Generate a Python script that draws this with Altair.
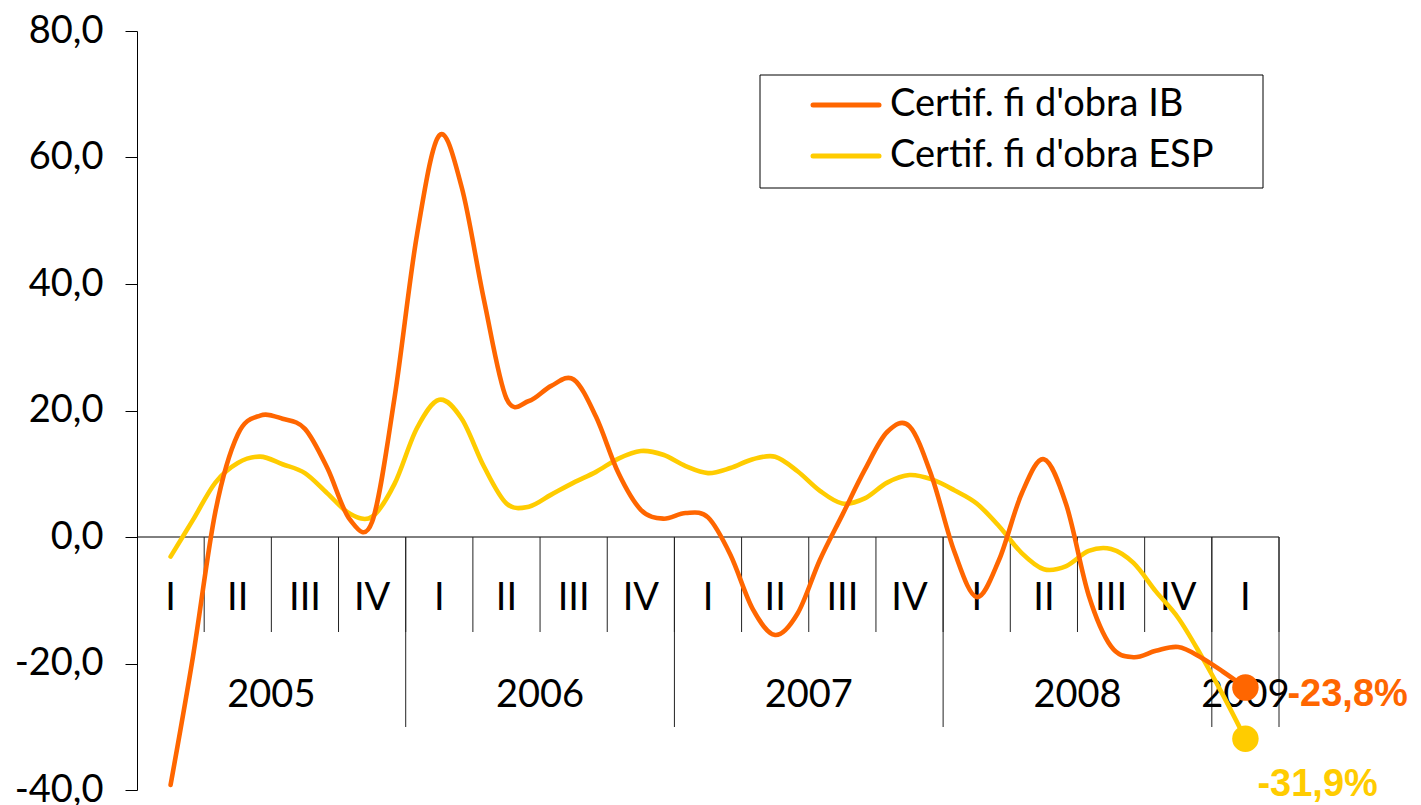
import altair as alt
import pandas as pd

# ---- data (monthly, Feb 2005 .. Feb 2009; month index 0 = Jan 2005) ----
month_index = list(range(1, 50))
ib_values = [-39.2, -18.9, 4.0, 16.2, 19.2, 18.7, 17.1, 10.9, 2.8, 2.4,
             22.0, 47.7, 63.5, 55.3, 37.4, 21.9, 21.5, 23.9, 24.9, 19.0,
             10.1, 4.3, 2.9, 3.8, 3.1, -2.8, -11.4, -15.5, -12.1, -3.6,
             3.5, 10.6, 16.6, 17.5, 9.5, -2.3, -9.5, -3.6, 6.8, 12.3,
             5.1, -9.2, -17.3, -19.0, -18.0, -17.4, -19.0, -21.3, -23.8]
esp_values = [-3.1, 2.7, 8.6, 11.7, 12.7, 11.5, 10.1, 6.9, 3.7, 3.2,
              8.4, 17.2, 21.7, 18.7, 11.1, 5.3, 4.8, 6.7, 8.6, 10.3,
              12.4, 13.6, 13.0, 11.2, 10.1, 10.9, 12.3, 12.7, 10.4, 7.3,
              5.3, 6.1, 8.6, 9.8, 9.1, 7.4, 5.3, 1.7, -2.5, -5.1,
              -4.6, -2.2, -1.9, -4.1, -8.6, -12.8, -18.6, -25.0, -31.9]
series_names = ["Certif. fi d'obra IB", "Certif. fi d'obra ESP"]
series_colors = ["#FF6600", "#FFCC00"]
quarter_labels = ["I", "II", "III", "IV", "I", "II", "III", "IV", "I", "II",
                  "III", "IV", "I", "II", "III", "IV", "I"]
year_labels = ["2005", "2006", "2007", "2008", "2009"]
end_values = [-23.8, -31.9]
end_labels = ["-23,8%", "-31,9%"]
y_ticks = [-40, -20, 0, 20, 40, 60, 80]

FONT = "Lato"
W, H = 1142, 759
n_q = len(quarter_labels)

xscale = alt.Scale(domain=[-0.5, 3 * n_q - 0.5], nice=False, zero=False)
yscale = alt.Scale(domain=[-40, 80], nice=False, zero=False)
cscale = alt.Scale(domain=series_names, range=series_colors)

yaxis = alt.Axis(
    values=y_ticks, title=None, grid=False,
    labelExpr="(datum.value < 0 ? '-' : '') + replace(format(abs(datum.value), '.1f'), '.', ',')",
    labelFont=FONT, labelFontSize=38, labelColor="black", labelPadding=22,
    labelFlush=False, labelOverlap=False,
    tickSize=12, tickColor="black", tickWidth=1, domainColor="black", domainWidth=1,
)

ib_df = pd.DataFrame({"month": month_index, "value": ib_values, "series": series_names[0]})
esp_df = pd.DataFrame({"month": month_index, "value": esp_values, "series": series_names[1]})


def line_layer(df):
    return alt.Chart(df).mark_line(
        interpolate="cardinal", strokeWidth=4.6, strokeJoin="round", strokeCap="round"
    ).encode(
        x=alt.X("month:Q", scale=xscale, axis=None),
        y=alt.Y("value:Q", scale=yscale, axis=yaxis),
        color=alt.Color("series:N", scale=cscale, legend=None),
    )


# category axis structure
q_df = pd.DataFrame({
    "q": list(range(n_q)),
    "label": quarter_labels,
})
q_df["mid"] = q_df["q"] * 3 + 1
b_df = pd.DataFrame({"q": list(range(1, n_q + 1))})
b_df["b"] = b_df["q"] * 3 - 0.5
yb_df = b_df[(b_df["q"] % 4 == 0) | (b_df["q"] == n_q)].copy()

yr_rows = []
for i, yl in enumerate(year_labels):
    first = 4 * i
    last = min(4 * i + 3, n_q - 1)
    yr_rows.append({"year": yl, "mid": (first * 3 - 0.5 + (last + 1) * 3 - 0.5) / 2})
yr_df = pd.DataFrame(yr_rows)

zero_df = pd.DataFrame({"x0": [-0.5], "x1": [3 * n_q - 0.5], "y0": [0]})

zero_line = alt.Chart(zero_df).mark_rule(color="black", strokeWidth=1).encode(
    x=alt.X("x0:Q", scale=xscale, axis=None),
    x2="x1:Q",
    y=alt.Y("y0:Q", scale=yscale, axis=yaxis),
)

q_seps = alt.Chart(b_df).mark_rule(color="#222222", strokeWidth=1).encode(
    x=alt.X("b:Q", scale=xscale, axis=None),
    y=alt.value(506), y2=alt.value(601),
)
y_seps = alt.Chart(yb_df).mark_rule(color="#222222", strokeWidth=1).encode(
    x=alt.X("b:Q", scale=xscale, axis=None),
    y=alt.value(506), y2=alt.value(696),
)
q_text = alt.Chart(q_df).mark_text(
    font=FONT, fontSize=38, color="black", baseline="middle", align="center"
).encode(
    x=alt.X("mid:Q", scale=xscale, axis=None),
    y=alt.value(568),
    text="label:N",
)
yr_text = alt.Chart(yr_df).mark_text(
    font=FONT, fontSize=38, color="black", baseline="middle", align="center"
).encode(
    x=alt.X("mid:Q", scale=xscale, axis=None),
    y=alt.value(665),
    text="year:N",
)

end_df = pd.DataFrame({
    "month": [month_index[-1]] * 2,
    "value": end_values,
    "series": series_names,
    "label": end_labels,
})
dots = alt.Chart(end_df).mark_circle(size=700, opacity=1).encode(
    x=alt.X("month:Q", scale=xscale, axis=None),
    y=alt.Y("value:Q", scale=yscale, axis=yaxis),
    color=alt.Color("series:N", scale=cscale, legend=None),
)
end_text_layers = []
for i, (dx, dy) in enumerate([(42, 7), (12, 46)]):
    end_text_layers.append(
        alt.Chart(end_df.iloc[[i]]).mark_text(
            font="Liberation Sans", fontWeight="bold", fontSize=38,
            align="left", baseline="middle", dx=dx, dy=dy,
        ).encode(
            x=alt.X("month:Q", scale=xscale, axis=None),
            y=alt.Y("value:Q", scale=yscale, axis=yaxis),
            text="label:N",
            color=alt.Color("series:N", scale=cscale, legend=None),
        )
    )

# custom legend box
leg_df = pd.DataFrame({"series": series_names, "row": [0, 1]})
leg_box = alt.Chart(leg_df.iloc[[0]]).mark_rect(
    fill="white", stroke="black", strokeWidth=1
).encode(
    x=alt.value(623), x2=alt.value(1126), y=alt.value(44), y2=alt.value(157)
)
leg_layers = [leg_box]
for i in range(2):
    row = leg_df.iloc[[i]]
    yy = 74 + 51 * i
    leg_layers.append(
        alt.Chart(row).mark_rule(strokeWidth=5, strokeCap="round").encode(
            x=alt.value(676), x2=alt.value(742), y=alt.value(yy),
            color=alt.Color("series:N", scale=cscale, legend=None),
        )
    )
    leg_layers.append(
        alt.Chart(row).mark_text(
            font=FONT, fontSize=38, color="black", align="left", baseline="middle"
        ).encode(
            x=alt.value(753), y=alt.value(yy), text="series:N"
        )
    )

chart = alt.layer(
    zero_line, q_seps, y_seps, q_text, yr_text,
    line_layer(esp_df), line_layer(ib_df),
    dots, *end_text_layers, *leg_layers,
).properties(
    width=W, height=H, autosize="none",
    padding={"left": 129, "top": 23, "right": 134, "bottom": 15},
    background="white",
).configure_view(stroke=None)

chart.save("out.html", embed_options={"renderer": "svg", "actions": False})
